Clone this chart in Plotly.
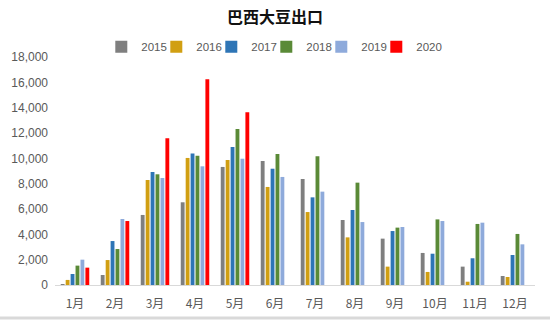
import plotly.graph_objects as go

months = ["1月", "2月", "3月", "4月", "5月", "6月", "7月", "8月", "9月", "10月", "11月", "12月"]
years = ["2015", "2016", "2017", "2018", "2019", "2020"]
v2015 = [50, 790, 5530, 6530, 9320, 9790, 8370, 5130, 3660, 2530, 1450, 710]
v2016 = [400, 1970, 8290, 10030, 9870, 7740, 5760, 3760, 1450, 1030, 260, 630]
v2017 = [870, 3470, 8920, 10390, 10890, 9180, 6920, 5920, 4260, 2470, 2110, 2370]
v2018 = [1530, 2840, 8740, 10210, 12320, 10340, 10160, 8080, 4530, 5180, 4820, 4030]
v2019 = [2000, 5210, 8450, 9370, 9970, 8530, 7370, 4970, 4580, 5050, 4920, 3210]
v2020 = [1370, 5050, 11580, 16240, 13630, None, None, None, None, None, None, None]
series = [v2015, v2016, v2017, v2018, v2019, v2020]
colors = ["#7f7f7f", "#d19f12", "#2e75b6", "#5a8a37", "#8eaadb", "#ff0000"]

fig = go.Figure()
for name, vals, c in zip(years, series, colors):
    fig.add_trace(go.Bar(x=months, y=vals, name=name, marker=dict(color=c, line=dict(width=0))))
# spacer legend entry so the last legend label is not clipped
fig.add_trace(go.Scatter(x=[None], y=[None], mode="markers", name=" ",
                         marker=dict(color="rgba(0,0,0,0)"), hoverinfo="skip"))

fig.update_layout(
    width=550, height=323,
    margin=dict(l=55, r=15, t=57, b=38),
    paper_bgcolor="white", plot_bgcolor="white",
    barmode="group", bargap=0.26, bargroupgap=0.22,
    title=dict(text="<b>巴西大豆出口</b>", x=0.5, xanchor="center", y=0.945, yanchor="middle",
               font=dict(family="Noto Sans CJK SC", size=16, color="#111111")),
    legend=dict(orientation="h", x=0.4975, xanchor="center", y=1.045, yanchor="middle",
                bgcolor="rgba(0,0,0,0)",
                font=dict(family="Liberation Sans, Arial", size=11.5, color="#595959"),
                itemwidth=30, entrywidth=10, entrywidthmode="pixels", traceorder="normal"),
    font=dict(family="Noto Sans CJK SC", color="#595959"),
)
fig.update_xaxes(showline=True, linecolor="#d9d9d9", linewidth=1, ticks="",
                 tickfont=dict(size=12, color="#595959"), showgrid=False, ticklabelstandoff=8)
fig.update_yaxes(range=[0, 18000], dtick=2000, tickformat=",", showgrid=False, zeroline=False,
                 showline=False, tickfont=dict(family="Liberation Sans, Arial", size=12, color="#595959"),
                 ticks="", ticklabelstandoff=6)
fig.add_shape(type="line", xref="paper", yref="paper", x0=-0.2, x1=1.1, y0=-0.145, y1=-0.145,
              line=dict(color="#d9d9d9", width=3))
fig.write_html("out.html")
